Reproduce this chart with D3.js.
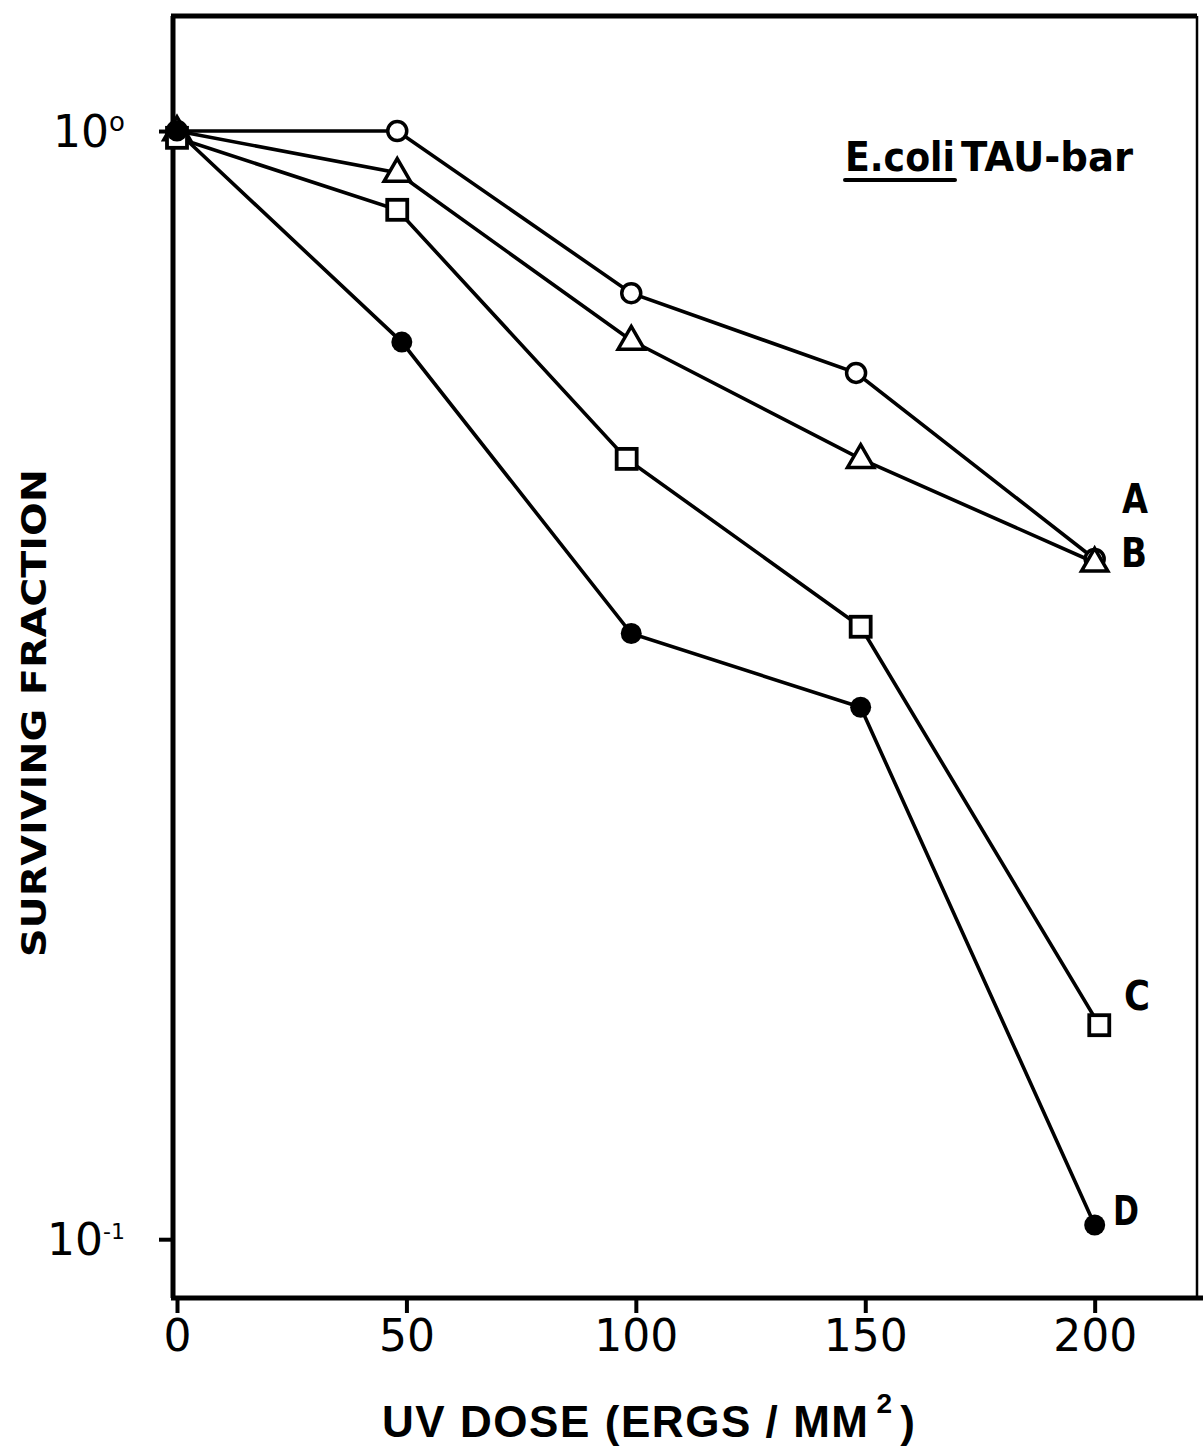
<!DOCTYPE html>
<html><head><meta charset="utf-8">
<script src="https://cdn.jsdelivr.net/npm/d3@7"></script>
<style>body{margin:0;background:#fff;} svg{display:block;}</style>
</head><body>
<svg id="chart" width="1203" height="1446"></svg>
<script>
// ---- data ----
const seriesNames = ["A", "B", "C", "D"];
const seriesShapes = ["circle", "triangle", "square", "dot"];
const dosesA = [0, 48, 99, 148, 200];
const dosesB = [0, 48, 99, 149, 200];
const dosesC = [0, 48, 98, 149, 201];
const dosesD = [0, 49, 99, 149, 200];
const survA = [1.0, 1.0, 0.714, 0.605, 0.411];
const survB = [1.0, 0.917, 0.647, 0.506, 0.408];
const survC = [0.986, 0.849, 0.506, 0.357, 0.156];
const survD = [1.0, 0.645, 0.352, 0.302, 0.103];
const xTicks = [0, 50, 100, 150, 200];
const xTickLabels = ["0", "50", "100", "150", "200"];
const yTicks = [1, 0.1];
const yTickBase = ["10", "10"];
const yTickExp = ["o", "-1"];
const xTitle = "UV DOSE (ERGS / MM";
const xTitleSup = "2";
const xTitleEnd = ")";
const yTitle = "SURVIVING FRACTION";
const strainItalic = "E.coli";
const strainName = "TAU-bar";

const series = seriesNames.map((n, i) => ({
  name: n, shape: seriesShapes[i],
  pts: [dosesA, dosesB, dosesC, dosesD][i].map((d, j) => ({x: d, y: [survA, survB, survC, survD][i][j]}))
}));

const svg = d3.select("#chart");
const x = d3.scaleLinear().domain([0, 222.3]).range([177, 1197]);
const y = d3.scaleLog().domain([0.0885, 1.27]).range([1298, 16]);
const font = "'DejaVu Sans', 'Liberation Sans', sans-serif";
const titleFont = "'Liberation Sans', Arial, sans-serif";

const [x0, x1] = x.range();
const [yb, yt] = y.range();

// frame
const frame = svg.append("g").attr("stroke", "#000").attr("fill", "none");
frame.append("line").attr("x1", x0 - 4).attr("x2", x0 - 4).attr("y1", yt).attr("y2", yb).attr("stroke-width", 5);
frame.append("line").attr("x1", x0 - 6).attr("x2", x1).attr("y1", yt).attr("y2", yt).attr("stroke-width", 5);
frame.append("line").attr("x1", x1).attr("x2", x1).attr("y1", yt).attr("y2", yb).attr("stroke-width", 2.5);
frame.append("line").attr("x1", x0 - 6).attr("x2", 1203).attr("y1", yb).attr("y2", yb).attr("stroke-width", 5);

// x axis ticks
const xAxis = d3.axisBottom(x).tickValues(xTicks).tickSize(15).tickPadding(6)
  .tickFormat((d, i) => xTickLabels[i]);
const gx = svg.append("g").attr("transform", `translate(0,${yb})`).call(xAxis);
gx.select(".domain").remove();
gx.selectAll(".tick line").attr("stroke", "#000").attr("stroke-width", 4);
gx.selectAll(".tick text").attr("font-family", font).attr("font-size", 44).attr("font-weight", 500)
  .attr("fill", "#000").attr("dy", "0.72em");

// y axis ticks
const yAxis = d3.axisLeft(y).tickValues(yTicks).tickSize(14).tickFormat("");
const gy = svg.append("g").attr("transform", `translate(${x0 - 4},0)`).call(yAxis);
gy.select(".domain").remove();
gy.selectAll(".tick line").attr("stroke", "#000").attr("stroke-width", 4);
yTicks.forEach((v, i) => {
  const t = svg.append("text").attr("x", 125).attr("y", y(v) + 16).attr("text-anchor", "end")
    .attr("font-family", font).attr("font-size", 44).attr("fill", "#000");
  t.append("tspan").text(yTickBase[i]);
  t.append("tspan").attr("font-size", yTickExp[i] === "o" ? 26 : 22).attr("dy", -16).text(yTickExp[i]);
});

// lines
const line = d3.line().x(d => x(d.x)).y(d => y(d.y));
svg.append("g").selectAll("path").data(series).join("path")
  .attr("d", d => line(d.pts)).attr("fill", "none").attr("stroke", "#000").attr("stroke-width", 3.6);

// markers
const mg = svg.append("g");
series.forEach(s => {
  s.pts.forEach(p => {
    const cx = x(p.x), cy = y(p.y);
    if (s.shape === "circle") {
      mg.append("circle").attr("cx", cx).attr("cy", cy).attr("r", 9.5).attr("fill", "#fff").attr("stroke", "#000").attr("stroke-width", 3.5);
    } else if (s.shape === "triangle") {
      const sym = d3.symbol().type(d3.symbolTriangle).size(300);
      mg.append("path").attr("d", sym()).attr("transform", `translate(${cx},${cy + 1})`).attr("fill", "#fff").attr("stroke", "#000").attr("stroke-width", 3.5);
    } else if (s.shape === "square") {
      mg.append("rect").attr("x", cx - 10).attr("y", cy - 10).attr("width", 20).attr("height", 20).attr("fill", "#fff").attr("stroke", "#000").attr("stroke-width", 3.8);
    } else {
      mg.append("circle").attr("cx", cx).attr("cy", cy).attr("r", 10.5).attr("fill", "#000");
    }
  });
});

// series labels
const labelPos = {A: [1122, 513], B: [1121, 567], C: [1124, 1010], D: [1113, 1225]};
seriesNames.forEach(n => {
  svg.append("text").attr("x", labelPos[n][0]).attr("y", labelPos[n][1]).text(n)
    .attr("font-family", font).attr("font-size", 40).attr("font-weight", "bold").attr("fill", "#000")
    .attr("textLength", 26).attr("lengthAdjust", "spacingAndGlyphs");
});

// strain annotation
const st = svg.append("text").attr("x", 845).attr("y", 171)
  .attr("font-family", font).attr("font-size", 40).attr("font-weight", "bold").attr("fill", "#000");
st.append("tspan").text(strainItalic).attr("textLength", 110).attr("lengthAdjust", "spacingAndGlyphs");
st.append("tspan").attr("dx", 6).text(strainName).attr("textLength", 172).attr("lengthAdjust", "spacingAndGlyphs");
svg.append("line").attr("x1", 845).attr("x2", 955).attr("y1", 180).attr("y2", 180).attr("stroke", "#000").attr("stroke-width", 4).attr("stroke-linecap", "round");

// x title: main part, superscript and closing bracket as separate texts, placed by measurement
const titleAttrs = sel => sel.attr("font-family", titleFont).attr("font-weight", "bold").attr("fill", "#000");
const mainT = svg.append("text").attr("x", 382).attr("y", 1437).attr("font-size", 44).call(titleAttrs).text(xTitle);
const natural = mainT.node().getComputedTextLength();
const targetW = 486;
const ls = (targetW - natural) / (xTitle.length - 1);
mainT.attr("letter-spacing", ls);
const w = mainT.node().getBBox().width;
const supX = 382 + w + 7;
const supT = svg.append("text").attr("x", supX).attr("y", 1413).attr("font-size", 28).call(titleAttrs).text(xTitleSup);
const supW = supT.node().getBBox().width;
svg.append("text").attr("x", supX + supW + 8).attr("y", 1437).attr("font-size", 44).call(titleAttrs).text(xTitleEnd);

// y title
svg.append("text").attr("transform", "translate(46,713) rotate(-90)").attr("text-anchor", "middle")
  .attr("font-family", font).attr("font-size", 34).attr("font-weight", "bold").attr("fill", "#000")
  .attr("textLength", 488).attr("lengthAdjust", "spacingAndGlyphs").text(yTitle);
</script>
</body></html>
